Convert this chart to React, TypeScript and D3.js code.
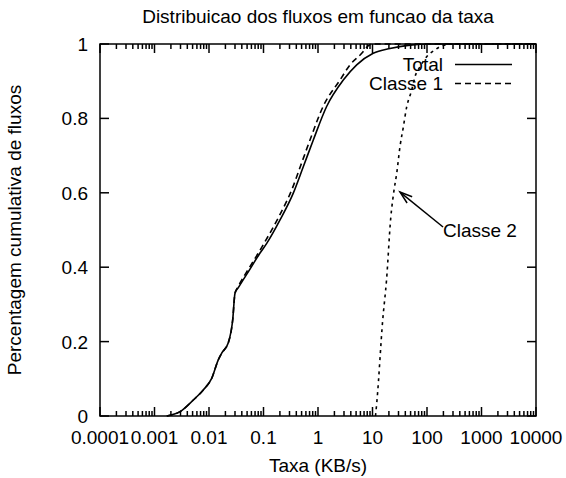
import React from "react";
import * as d3 from "d3";

const W = 566;
const H = 478;

const titleText = "Distribuicao dos fluxos em funcao da taxa";
const xLabelText = "Taxa (KB/s)";
const yLabelText = "Percentagem cumulativa de fluxos";

const xTickValues = [0.0001, 0.001, 0.01, 0.1, 1, 10, 100, 1000, 10000];
const xTickLabels = ["0.0001", "0.001", "0.01", "0.1", "1", "10", "100", "1000", "10000"];
const yTickValues = [0, 0.2, 0.4, 0.6, 0.8, 1];
const yTickLabels = ["0", "0.2", "0.4", "0.6", "0.8", "1"];

const totalX = [0.00168, 0.00294, 0.00515, 0.00786, 0.0112, 0.0148, 0.0171, 0.0226, 0.0272, 0.03, 0.0345, 0.0565, 0.0863, 0.1146, 0.201, 0.352, 0.537, 0.82, 1.44, 2.91, 5.13, 10.3, 20.9, 48.8, 113, 10000];
const totalY = [0, 0.0116, 0.043, 0.07, 0.101, 0.151, 0.169, 0.197, 0.258, 0.33, 0.345, 0.395, 0.438, 0.464, 0.527, 0.599, 0.67, 0.742, 0.832, 0.903, 0.944, 0.975, 0.988, 0.997, 1, 1];

const classe1X = [0.00168, 0.00294, 0.00515, 0.00786, 0.0112, 0.0148, 0.0171, 0.0226, 0.0272, 0.03, 0.034, 0.054, 0.082, 0.108, 0.19, 0.33, 0.5, 0.713, 1.24, 2.53, 3.87, 6.34, 7.9, 9.8, 10000];
const classe1Y = [0, 0.0116, 0.043, 0.07, 0.101, 0.151, 0.169, 0.197, 0.258, 0.33, 0.347, 0.397, 0.44, 0.47, 0.535, 0.608, 0.68, 0.742, 0.832, 0.903, 0.944, 0.975, 0.992, 1, 1];

const classe2X = [11.35, 12.1, 15.4, 18.1, 21.6, 24.8, 27.8, 32.0, 36.8, 42.4, 52.4, 60.2, 74.5, 98.7, 140, 186, 304, 10000];
const classe2Y = [0, 0.043, 0.258, 0.366, 0.532, 0.6065, 0.652, 0.725, 0.777, 0.831, 0.876, 0.912, 0.939, 0.966, 0.984, 0.995, 1, 1];

const legendNames = ["Total", "Classe 1"];
const arrowLabel = "Classe 2";
const arrowFrom = { x: 197, y: 0.508 };
const arrowTo = { x: 32, y: 0.602 };

const M = { left: 100, right: 536, top: 44, bottom: 416 };
const FONT = "'Liberation Sans', Arial, Helvetica, sans-serif";

export default function App() {
  const x = d3.scaleLog().domain([0.0001, 10000]).range([M.left, M.right]);
  const y = d3.scaleLinear().domain([0, 1]).range([M.bottom, M.top]);

  const mk = (xs: number[], ys: number[]) =>
    d3
      .line<number>()
      .x((_, i) => x(xs[i]))
      .y((_, i) => y(ys[i]))
      .curve(d3.curveMonotoneX)(xs) || "";

  const minor: number[] = [];
  for (let e = -4; e < 4; e++) {
    for (let k = 2; k <= 9; k++) minor.push(k * Math.pow(10, e));
  }

  const majorLen = 9;
  const minorLen = 5;
  const fs = 19;

  // arrow
  const ax1 = x(arrowFrom.x), ay1 = y(arrowFrom.y);
  const ax2 = x(arrowTo.x), ay2 = y(arrowTo.y);
  const ang = Math.atan2(ay2 - ay1, ax2 - ax1);
  const hl = 13, ha = (18 * Math.PI) / 180;
  const h1 = [ax2 - hl * Math.cos(ang - ha), ay2 - hl * Math.sin(ang - ha)];
  const h2 = [ax2 - hl * Math.cos(ang + ha), ay2 - hl * Math.sin(ang + ha)];

  return (
    <svg
      width={W}
      height={H}
      style={{ position: "absolute", left: 0, top: 0, background: "#fff" }}
      fontFamily={FONT}
    >
      <rect x={0} y={0} width={W} height={H} fill="#fff" />
      <text x={(M.left + M.right) / 2} y={23} textAnchor="middle" fontSize={19}>
        {titleText}
      </text>
      <text x={(M.left + M.right) / 2} y={472} textAnchor="middle" fontSize={fs}>
        {xLabelText}
      </text>
      <text
        transform={`translate(21, ${(M.top + M.bottom) / 2}) rotate(-90)`}
        textAnchor="middle"
        fontSize={fs}
      >
        {yLabelText}
      </text>

      {/* ticks */}
      <g stroke="#000" strokeWidth={1.5}>
        {xTickValues.map((v) => (
          <g key={"xm" + v}>
            <line x1={x(v)} x2={x(v)} y1={M.bottom} y2={M.bottom - majorLen} />
            <line x1={x(v)} x2={x(v)} y1={M.top} y2={M.top + majorLen} />
          </g>
        ))}
        {minor.map((v) => (
          <g key={"xn" + v}>
            <line x1={x(v)} x2={x(v)} y1={M.bottom} y2={M.bottom - minorLen} />
            <line x1={x(v)} x2={x(v)} y1={M.top} y2={M.top + minorLen} />
          </g>
        ))}
        {yTickValues.map((v) => (
          <g key={"ym" + v}>
            <line x1={M.left} x2={M.left + majorLen} y1={y(v)} y2={y(v)} />
            <line x1={M.right} x2={M.right - majorLen} y1={y(v)} y2={y(v)} />
          </g>
        ))}
      </g>

      {xTickValues.map((v, i) => (
        <text key={"xl" + v} x={x(v)} y={444} textAnchor="middle" fontSize={fs}>
          {xTickLabels[i]}
        </text>
      ))}
      {yTickValues.map((v, i) => (
        <text key={"yl" + v} x={88} y={y(v) + 7} textAnchor="end" fontSize={fs}>
          {yTickLabels[i]}
        </text>
      ))}

      {/* curves */}
      <g fill="none" stroke="#000" strokeWidth={1.6}>
        <path d={mk(totalX, totalY)} />
        <path d={mk(classe1X, classe1Y)} strokeDasharray="6,4" />
        <path d={mk(classe2X, classe2Y)} strokeDasharray="3,4" />
      </g>

      {/* legend */}
      <text x={443} y={71} textAnchor="end" fontSize={fs}>
        {legendNames[0]}
      </text>
      <line x1={455} x2={512} y1={64.5} y2={64.5} stroke="#000" strokeWidth={1.5} />
      <text x={443} y={90} textAnchor="end" fontSize={fs}>
        {legendNames[1]}
      </text>
      <line x1={455} x2={512} y1={83.5} y2={83.5} stroke="#000" strokeWidth={1.5} strokeDasharray="6,4" />

      {/* arrow */}
      <g stroke="#000" strokeWidth={1.5} fill="none">
        <line x1={ax1} y1={ay1} x2={ax2} y2={ay2} />
        <polyline points={`${h1[0]},${h1[1]} ${ax2},${ay2} ${h2[0]},${h2[1]}`} />
      </g>
      <text x={443} y={237} fontSize={fs}>
        {arrowLabel}
      </text>

      {/* frame */}
      <rect
        x={M.left}
        y={M.top}
        width={M.right - M.left}
        height={M.bottom - M.top}
        fill="none"
        stroke="#000"
        strokeWidth={1.5}
      />
    </svg>
  );
}
